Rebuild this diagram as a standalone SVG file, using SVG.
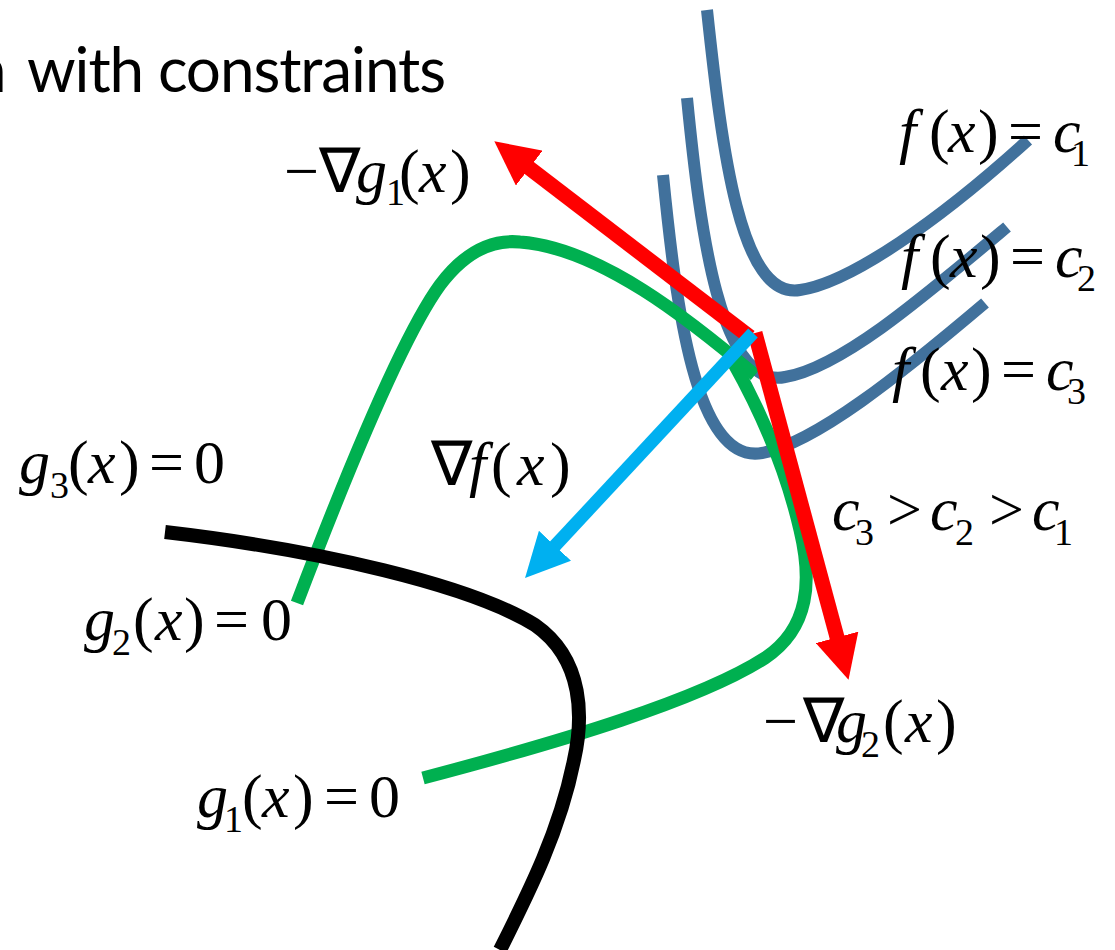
<svg xmlns="http://www.w3.org/2000/svg" width="1115" height="950" viewBox="0 0 1115 950">
<style>
.bg{fill:#ffffff}
.lvl{fill:none;stroke:#41719C;stroke-width:12}
.con{fill:none;stroke:#00B050;stroke-width:13}
.blk{fill:none;stroke:#000000;stroke-width:14}
.red{fill:none;stroke:#FF0000;stroke-width:15}
.cyan{fill:none;stroke:#00B0F0;stroke-width:13}
.title{font-family:Lato,'Open Sans',sans-serif;font-size:62px;fill:#000}
.m{font-family:'Liberation Serif','Times New Roman',serif;font-size:62px;fill:#000}
.i{font-style:italic}
.s{font-size:38px}
</style>
<defs>
<marker id="headRed" markerUnits="userSpaceOnUse" markerWidth="44" markerHeight="44" viewBox="0 0 42 42" refX="2" refY="21" orient="auto"><path d="M0,0 L42,21 L0,42 z" fill="#FF0000"/></marker>
<marker id="headCyan" markerUnits="userSpaceOnUse" markerWidth="44" markerHeight="44" viewBox="0 0 42 42" refX="2" refY="21" orient="auto"><path d="M0,0 L42,21 L0,42 z" fill="#00B0F0"/></marker>
</defs>
<rect class="bg" x="0" y="0" width="1115" height="950"/>
<g id="title">
<text class="title" x="-28" y="92">n</text>
<text class="title" x="27" y="92" textLength="419">with constraints</text>
</g>
<g id="level-sets">
<path id="f-c1" class="lvl" d="M707,10 C722,150 740,300 800,290 C850,283 940,220 1028,140"/>
<path id="f-c2" class="lvl" d="M687,98 C700,230 720,390 785,377 C840,368 920,300 1007,227"/>
<path id="f-c3" class="lvl" d="M663,175 C676,305 695,465 762,453 C815,443 900,375 985,303"/>
</g>
<g id="constraint-g2"><path class="con" d="M297,603 C340,490 400,340 440,285 C470,245 500,240 520,242 C600,248 690,320 755,375"/></g>
<g id="constraint-g1"><path class="con" d="M423,778 C560,742 700,700 765,658 C810,628 812,580 800,530 C785,465 760,410 733,362"/></g>
<g id="constraint-g3"><path class="blk" d="M165,532 C320,550 470,585 535,625 C585,660 583,720 574,760 C560,830 530,890 500,950"/></g>
<g id="connectors">
<line id="neg-grad-g1" class="red" x1="750" y1="337" x2="527.6" y2="166.8" marker-end="url(#headRed)"/>
<line id="neg-grad-g2" class="red" x1="755" y1="333" x2="837.6" y2="639.4" marker-end="url(#headRed)"/>
<line id="grad-f" class="cyan" x1="753" y1="333" x2="553.6" y2="547.3" marker-end="url(#headCyan)"/>
</g>
<g id="labels">
<text class="m" y="192"><tspan x="284">−</tspan><tspan x="319">∇</tspan><tspan class="i" x="356">g</tspan><tspan class="s" x="386" y="205">1</tspan><tspan x="399" y="192">(</tspan><tspan class="i" x="419">x</tspan><tspan x="450">)</tspan></text>
<text class="m" y="152"><tspan class="i" x="899">f</tspan><tspan x="929">(</tspan><tspan class="i" x="948">x</tspan><tspan x="978">)</tspan><tspan x="1008">=</tspan><tspan class="i" x="1053">c</tspan><tspan class="s" x="1071" y="166">1</tspan></text>
<text class="m" y="277"><tspan class="i" x="901">f</tspan><tspan x="930">(</tspan><tspan class="i" x="950">x</tspan><tspan x="980">)</tspan><tspan x="1010">=</tspan><tspan class="i" x="1055">c</tspan><tspan class="s" x="1077" y="291">2</tspan></text>
<text class="m" y="390"><tspan class="i" x="892">f</tspan><tspan x="920">(</tspan><tspan class="i" x="941">x</tspan><tspan x="971">)</tspan><tspan x="1001">=</tspan><tspan class="i" x="1046">c</tspan><tspan class="s" x="1067" y="404">3</tspan></text>
<text class="m" y="483"><tspan class="i" x="19">g</tspan><tspan class="s" x="50" y="498">3</tspan><tspan x="68" y="483">(</tspan><tspan class="i" x="88">x</tspan><tspan x="119">)</tspan><tspan x="149">=</tspan><tspan x="194">0</tspan></text>
<text class="m" y="485"><tspan x="431">∇</tspan><tspan class="i" x="469">f</tspan><tspan x="491">(</tspan><tspan class="i" x="517">x</tspan><tspan x="550">)</tspan></text>
<text class="m" y="530"><tspan class="i" x="832">c</tspan><tspan class="s" x="855" y="545">3</tspan><tspan x="887" y="530">&gt;</tspan><tspan class="i" x="930">c</tspan><tspan class="s" x="955" y="545">2</tspan><tspan x="989" y="530">&gt;</tspan><tspan class="i" x="1032">c</tspan><tspan class="s" x="1054" y="545">1</tspan></text>
<text class="m" y="640"><tspan class="i" x="84">g</tspan><tspan class="s" x="112" y="655">2</tspan><tspan x="133" y="640">(</tspan><tspan class="i" x="155">x</tspan><tspan x="184">)</tspan><tspan x="214">=</tspan><tspan x="261">0</tspan></text>
<text class="m" y="742"><tspan x="763">−</tspan><tspan x="803">∇</tspan><tspan class="i" x="836">g</tspan><tspan class="s" x="861" y="757">2</tspan><tspan x="883" y="742">(</tspan><tspan class="i" x="905">x</tspan><tspan x="936">)</tspan></text>
<text class="m" y="817"><tspan class="i" x="197">g</tspan><tspan class="s" x="224" y="832">1</tspan><tspan x="242" y="817">(</tspan><tspan class="i" x="262">x</tspan><tspan x="293">)</tspan><tspan x="324">=</tspan><tspan x="369">0</tspan></text>
</g>
</svg>
